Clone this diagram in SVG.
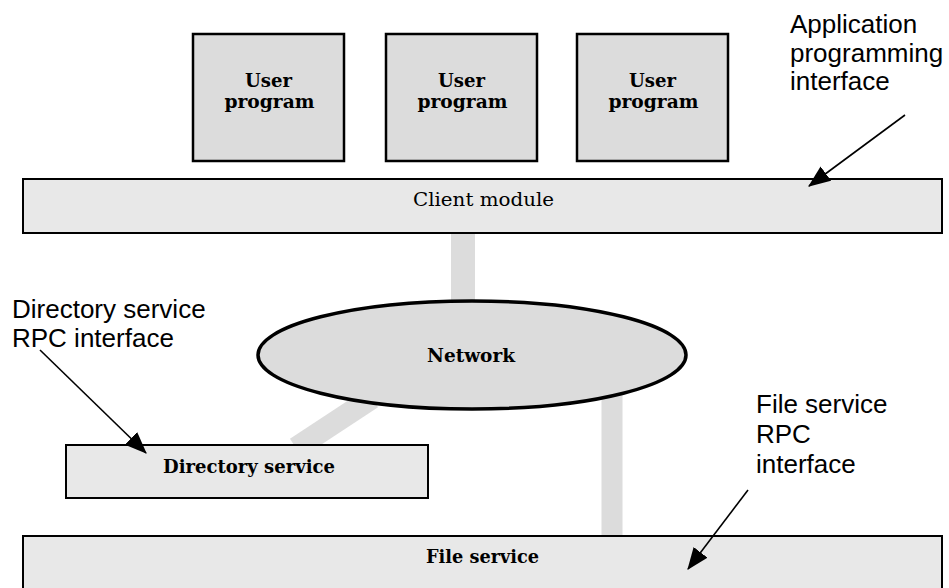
<svg xmlns="http://www.w3.org/2000/svg" width="949" height="588" viewBox="0 0 949 588">
<style>
.box{fill:#dcdcdc;stroke:#000;stroke-width:2.5}
.bar{fill:#e8e8e8;stroke:#000;stroke-width:2}
.net{fill:#dcdcdc;stroke:#000;stroke-width:3.5}
.link{stroke:#dcdcdc;fill:none}
.lbl{font-family:"DejaVu Serif","Liberation Serif",serif;font-size:18px;fill:#000;text-anchor:middle}
.b{font-weight:bold}
.note{font-family:"Liberation Sans",Arial,sans-serif;font-size:26px;fill:#000}
.arr{stroke:#000;stroke-width:1.6;fill:none;marker-end:url(#ah)}
</style>
<defs>
<marker id="ah" markerUnits="userSpaceOnUse" markerWidth="22" markerHeight="18" refX="19" refY="8" orient="auto" viewBox="0 0 20 16">
<path d="M0,0 L20,8 L0,16 Z" fill="#000"/>
</marker>
</defs>
<rect width="949" height="588" fill="#fff"/>
<g id="connectors">
<line class="link" x1="463" y1="232" x2="463" y2="310" stroke-width="24"/>
<line class="link" x1="612" y1="395" x2="612" y2="536" stroke-width="21"/>
<line class="link" x1="372" y1="398" x2="296" y2="448" stroke-width="22"/>
</g>
<g id="user1">
<rect class="box" x="193" y="34" width="151" height="127"/>
<text class="lbl b" x="268.5" y="87" textLength="47" lengthAdjust="spacingAndGlyphs">User</text>
<text class="lbl b" x="269.5" y="108" textLength="90" lengthAdjust="spacingAndGlyphs">program</text>
</g>
<g id="user2">
<rect class="box" x="386" y="34" width="151" height="127"/>
<text class="lbl b" x="461.5" y="87" textLength="47" lengthAdjust="spacingAndGlyphs">User</text>
<text class="lbl b" x="462.5" y="108" textLength="90" lengthAdjust="spacingAndGlyphs">program</text>
</g>
<g id="user3">
<rect class="box" x="577" y="34" width="151" height="127"/>
<text class="lbl b" x="652.5" y="87" textLength="47" lengthAdjust="spacingAndGlyphs">User</text>
<text class="lbl b" x="653.5" y="108" textLength="90" lengthAdjust="spacingAndGlyphs">program</text>
</g>
<g id="client">
<rect class="bar" x="23" y="179" width="919" height="54"/>
<text class="lbl" x="483.5" y="206" textLength="141" lengthAdjust="spacingAndGlyphs">Client module</text>
</g>
<g id="network">
<ellipse class="net" cx="472" cy="355" rx="214" ry="54"/>
<text class="lbl b" x="471" y="362" textLength="88" lengthAdjust="spacingAndGlyphs">Network</text>
</g>
<g id="directory">
<rect class="bar" x="66" y="445" width="362" height="53"/>
<text class="lbl b" x="249" y="473" textLength="172" lengthAdjust="spacingAndGlyphs">Directory service</text>
</g>
<g id="file">
<rect class="bar" x="23" y="536" width="919" height="70"/>
<text class="lbl b" x="482.5" y="563" textLength="113" lengthAdjust="spacingAndGlyphs">File service</text>
</g>
<g id="annotations">
<text class="note" x="790" y="33">Application</text>
<text class="note" x="790" y="62">programming</text>
<text class="note" x="790" y="90">interface</text>
<text class="note" x="12" y="318">Directory service</text>
<text class="note" x="12" y="347">RPC interface</text>
<text class="note" x="756" y="413">File service</text>
<text class="note" x="756" y="443">RPC</text>
<text class="note" x="756" y="473">interface</text>
</g>
<g id="arrows">
<line class="arr" x1="905" y1="115" x2="809" y2="186"/>
<line class="arr" x1="40" y1="350" x2="146" y2="453"/>
<line class="arr" x1="748" y1="490" x2="688" y2="569"/>
</g>
</svg>
